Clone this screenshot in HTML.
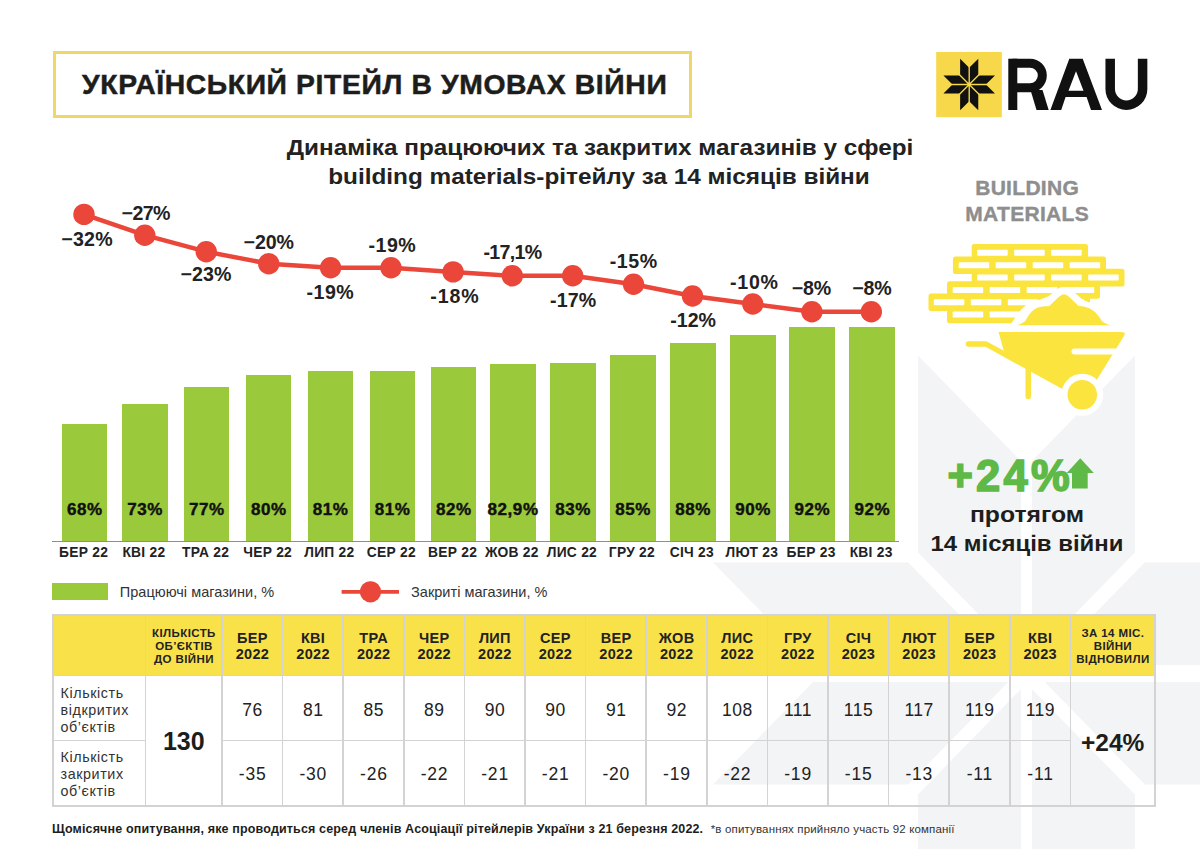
<!DOCTYPE html>
<html><head><meta charset="utf-8"><style>
*{margin:0;padding:0;box-sizing:border-box}
html,body{width:1200px;height:849px;overflow:hidden;background:#fff}
body{position:relative;font-family:"Liberation Sans",sans-serif;color:#1d1d1b}
.abs{position:absolute}
.t{position:absolute;white-space:nowrap}
.bar{position:absolute;background:#9bc93c}
.bl{position:absolute;width:80px;text-align:center;font-weight:bold;font-size:17px;line-height:20px;color:#111;letter-spacing:0.6px;padding-left:0.6px;-webkit-text-stroke:0.45px #111}
.ml{position:absolute;width:80px;text-align:center;font-weight:bold;font-size:13.8px;line-height:16px;color:#222;letter-spacing:0.25px;padding-left:0.25px}
.dl{position:absolute;width:90px;text-align:center;font-weight:bold;font-size:19.6px;line-height:20px;color:#222;letter-spacing:0.3px}
</style></head><body>

<svg class="abs" style="left:0;top:0" width="1200" height="849" viewBox="0 0 1200 849">
<polygon points="918.00,355.60 1026.50,466.60 1135.00,355.60 1135.00,562.40 1340.00,562.40 1231.50,673.40 1340.00,784.40 1135.00,784.40 1135.00,991.20 1026.50,880.20 918.00,991.20 918.00,784.40 713.00,784.40 821.50,673.40 713.00,562.40 918.00,562.40" fill="#f3f4f6"/>
<g stroke="#fff">
<line x1="1026.5" y1="273.4" x2="1026.5" y2="1073.4" stroke-width="11"/>
<line x1="626.5" y1="673.4" x2="1426.5" y2="673.4" stroke-width="17"/>
<line x1="679.3" y1="318.19999999999993" x2="1373.7" y2="1028.6" stroke-width="14"/>
<line x1="679.3" y1="1028.6" x2="1373.7" y2="318.19999999999993" stroke-width="14"/>
</g></svg>
<div class="abs" style="left:53px;top:51px;width:638.5px;height:66.5px;border:3px solid #efd868"></div>
<div class="t" style="left:82px;top:69.65px;font-size:28.3px;line-height:28px;font-weight:bold;letter-spacing:0.63px;color:#1d1d1b;-webkit-text-stroke:0.5px #1d1d1b">УКРАЇНСЬКИЙ РІТЕЙЛ В УМОВАХ ВІЙНИ</div>

<svg class="abs" style="left:0;top:0" width="1200" height="140" viewBox="0 0 1200 140">
<rect x="936.2" y="52" width="65.6" height="65.2" fill="#f7d84a"/>
<polygon points="960.13,58.73 969.20,67.80 978.27,58.73 978.27,75.43 994.97,75.43 985.90,84.50 994.97,93.57 978.27,93.57 978.27,110.27 969.20,101.20 960.13,110.27 960.13,93.57 943.43,93.57 952.50,84.50 943.43,75.43 960.13,75.43" fill="#111"/>
<g stroke="#f7d84a" stroke-width="1.35">
<line x1="969.2" y1="54.5" x2="969.2" y2="114.5"/>
<line x1="939.2" y1="84.5" x2="999.2" y2="84.5"/>
<line x1="939.2" y1="54.5" x2="999.2" y2="114.5"/>
<line x1="939.2" y1="114.5" x2="999.2" y2="54.5"/>
</g>
<circle cx="969.2" cy="84.5" r="1.9" fill="#f7d84a"/>
<g fill="#111">
<rect x="1008.3" y="58.7" width="9" height="51.3"/>
<path d="M1012.8,63.2 H1030 A12.3,12.3 0 0 1 1030,87.8 H1012.8" fill="none" stroke="#111" stroke-width="9"/>
<polygon points="1030.5,90 1042.5,90 1048.7,110 1036.5,110"/>
<path fill-rule="evenodd" d="M1050.4,110 L1069.3,58.7 L1082.7,58.7 L1102,110 L1091,110 L1086.6,97 L1065.6,97 L1061.2,110 Z M1076,71.3 L1083.5,90.7 L1068.5,90.7 Z"/>
<path d="M1110.2,58.7 V89 A16.2,16.2 0 0 0 1142.6,89 V58.7" fill="none" stroke="#111" stroke-width="9.5"/>
</g>
</svg>
<div class="t" style="left:299.5px;width:600px;text-align:center;top:134.3px;font-size:22px;line-height:28.7px;font-weight:bold;transform:scaleX(1.1035);transform-origin:300px 0;color:#222">Динаміка працюючих та закритих магазинів у сфері</div>
<div class="t" style="left:299.2px;width:600px;text-align:center;top:163px;font-size:22px;line-height:28.7px;font-weight:bold;transform:scaleX(1.105);transform-origin:300px 0;color:#222">building materials-рітейлу за 14 місяців війни</div>

<div class="bar" style="left:61.75px;top:423.8px;width:45.5px;height:116.94999999999999px"></div>
<div class="bl" style="left:44.5px;top:499.5px">68%</div>
<div class="ml" style="left:43.5px;top:544.7px">БЕР 22</div>
<div class="bar" style="left:122px;top:403.8px;width:45.5px;height:136.95px"></div>
<div class="bl" style="left:104.75px;top:499.5px">73%</div>
<div class="ml" style="left:103.75px;top:544.7px">КВІ 22</div>
<div class="bar" style="left:183.75px;top:387.3px;width:45.5px;height:153.45px"></div>
<div class="bl" style="left:166.5px;top:499.5px">77%</div>
<div class="ml" style="left:165.5px;top:544.7px">ТРА 22</div>
<div class="bar" style="left:245.75px;top:375.4px;width:45.5px;height:165.35000000000002px"></div>
<div class="bl" style="left:228.5px;top:499.5px">80%</div>
<div class="ml" style="left:227.5px;top:544.7px">ЧЕР 22</div>
<div class="bar" style="left:307.5px;top:371.1px;width:45.5px;height:169.64999999999998px"></div>
<div class="bl" style="left:290.25px;top:499.5px">81%</div>
<div class="ml" style="left:289.25px;top:544.7px">ЛИП 22</div>
<div class="bar" style="left:369.5px;top:371.1px;width:45.5px;height:169.64999999999998px"></div>
<div class="bl" style="left:352.25px;top:499.5px">81%</div>
<div class="ml" style="left:351.25px;top:544.7px">СЕР 22</div>
<div class="bar" style="left:430.75px;top:367.2px;width:45.5px;height:173.55px"></div>
<div class="bl" style="left:413.5px;top:499.5px">82%</div>
<div class="ml" style="left:412.5px;top:544.7px">ВЕР 22</div>
<div class="bar" style="left:490px;top:363.8px;width:45.5px;height:176.95px"></div>
<div class="bl" style="left:472.75px;top:499.5px">82,9%</div>
<div class="ml" style="left:471.75px;top:544.7px">ЖОВ 22</div>
<div class="bar" style="left:550px;top:363px;width:45.5px;height:177.75px"></div>
<div class="bl" style="left:532.75px;top:499.5px">83%</div>
<div class="ml" style="left:531.75px;top:544.7px">ЛИС 22</div>
<div class="bar" style="left:610px;top:355.2px;width:45.5px;height:185.55px"></div>
<div class="bl" style="left:592.75px;top:499.5px">85%</div>
<div class="ml" style="left:591.75px;top:544.7px">ГРУ 22</div>
<div class="bar" style="left:670px;top:343px;width:45.5px;height:197.75px"></div>
<div class="bl" style="left:652.75px;top:499.5px">88%</div>
<div class="ml" style="left:651.75px;top:544.7px">СІЧ 23</div>
<div class="bar" style="left:730px;top:335.1px;width:45.5px;height:205.64999999999998px"></div>
<div class="bl" style="left:712.75px;top:499.5px">90%</div>
<div class="ml" style="left:711.75px;top:544.7px">ЛЮТ 23</div>
<div class="bar" style="left:789.25px;top:326.8px;width:45.5px;height:213.95px"></div>
<div class="bl" style="left:772.0px;top:499.5px">92%</div>
<div class="ml" style="left:771.0px;top:544.7px">БЕР 23</div>
<div class="bar" style="left:849.25px;top:326.8px;width:45.5px;height:213.95px"></div>
<div class="bl" style="left:832.0px;top:499.5px">92%</div>
<div class="ml" style="left:831.0px;top:544.7px">КВІ 23</div>
<div class="abs" style="left:52.25px;top:540.5px;width:846.5px;height:1.3px;background:#8d8d92"></div>
<svg class="abs" style="left:0;top:0" width="1200" height="620" viewBox="0 0 1200 620">
<polyline points="84,214.4 144.8,235.2 206.25,251.7 268.75,263.75 330.6,267.7 391,267.7 453.1,271.9 512.3,275.8 572.7,275.8 633.5,284.2 692.5,296 752.8,304 811.9,311.7 871.3,311.7" fill="none" stroke="#ea4639" stroke-width="4.5" stroke-linejoin="round"/>
<circle cx="84" cy="214.4" r="10.7" fill="#ea4639"/><circle cx="144.8" cy="235.2" r="10.7" fill="#ea4639"/><circle cx="206.25" cy="251.7" r="10.7" fill="#ea4639"/><circle cx="268.75" cy="263.75" r="10.7" fill="#ea4639"/><circle cx="330.6" cy="267.7" r="10.7" fill="#ea4639"/><circle cx="391" cy="267.7" r="10.7" fill="#ea4639"/><circle cx="453.1" cy="271.9" r="10.7" fill="#ea4639"/><circle cx="512.3" cy="275.8" r="10.7" fill="#ea4639"/><circle cx="572.7" cy="275.8" r="10.7" fill="#ea4639"/><circle cx="633.5" cy="284.2" r="10.7" fill="#ea4639"/><circle cx="692.5" cy="296" r="10.7" fill="#ea4639"/><circle cx="752.8" cy="304" r="10.7" fill="#ea4639"/><circle cx="811.9" cy="311.7" r="10.7" fill="#ea4639"/><circle cx="871.3" cy="311.7" r="10.7" fill="#ea4639"/>
<line x1="341.6" y1="591.9" x2="399" y2="591.9" stroke="#ea4639" stroke-width="3.8"/>
<circle cx="370.5" cy="591.8" r="10.6" fill="#ea4639"/>
</svg>
<div class="dl" style="left:42.125px;top:229px;letter-spacing:0.25px">−32%</div>
<div class="dl" style="left:100.71px;top:202.5px;letter-spacing:-0.58px">−27%</div>
<div class="dl" style="left:161.035px;top:264px;letter-spacing:0.07px">−23%</div>
<div class="dl" style="left:223.71px;top:231.7px;letter-spacing:-0.08px">−20%</div>
<div class="dl" style="left:285.345px;top:282px;letter-spacing:0.49px">-19%</div>
<div class="dl" style="left:347.445px;top:234.7px;letter-spacing:0.49px">-19%</div>
<div class="dl" style="left:409.93px;top:286.4px;letter-spacing:0.86px">-18%</div>
<div class="dl" style="left:467.47499999999997px;top:242.4px;letter-spacing:-0.65px">-17,1%</div>
<div class="dl" style="left:528.1800000000001px;top:289.6px;letter-spacing:0.16px">-17%</div>
<div class="dl" style="left:588.765px;top:251px;letter-spacing:0.53px">-15%</div>
<div class="dl" style="left:648.115px;top:310px;letter-spacing:0.03px">-12%</div>
<div class="dl" style="left:709.38px;top:271.6px;letter-spacing:0.76px">-10%</div>
<div class="dl" style="left:766.39px;top:278.3px;letter-spacing:-0.22px">−8%</div>
<div class="dl" style="left:826.89px;top:278.3px;letter-spacing:-0.22px">−8%</div>
<div class="abs" style="left:51.7px;top:582.6px;width:56px;height:17.7px;background:#9bc93c"></div>
<div class="t" style="left:119.8px;top:583px;font-size:14.5px;line-height:18px;color:#333;letter-spacing:0.03px">Працюючі магазини, %</div>
<div class="t" style="left:411px;top:583px;font-size:14.5px;line-height:18px;color:#333;letter-spacing:0.03px">Закриті магазини, %</div>

<div class="t" style="left:927px;width:200px;text-align:center;top:177.9px;font-size:21px;line-height:20px;font-weight:bold;color:#8e8e8e;letter-spacing:0.3px;padding-left:0.3px;-webkit-text-stroke:0.4px #8e8e8e">BUILDING</div>
<div class="t" style="left:927px;width:200px;text-align:center;top:203.75px;font-size:21px;line-height:20px;font-weight:bold;color:#8e8e8e;letter-spacing:0.3px;padding-left:0.3px;-webkit-text-stroke:0.4px #8e8e8e">MATERIALS</div>
<svg class="abs" style="left:0;top:0" width="1200" height="430" viewBox="0 0 1200 430">
<rect x="971.7" y="244.0" width="116.29999999999995" height="17.6" rx="2.5" fill="#fce43e"/>
<rect x="952.9" y="256.4" width="153.10000000000002" height="17.6" rx="2.5" fill="#fce43e"/>
<rect x="971.7" y="268.8" width="152.79999999999995" height="17.6" rx="2.5" fill="#fce43e"/>
<rect x="947" y="281.2" width="153" height="17.6" rx="2.5" fill="#fce43e"/>
<rect x="928.5" y="293.5" width="161.5" height="17.6" rx="2.5" fill="#fce43e"/>
<rect x="947" y="305.7" width="123" height="17.6" rx="2.5" fill="#fce43e"/>
<rect x="977.2" y="249.8" width="30.5" height="6" rx="0.8" fill="#fff"/>
<rect x="1014.2" y="249.8" width="30.5" height="6" rx="0.8" fill="#fff"/>
<rect x="1051.2" y="249.8" width="30.5" height="6" rx="0.8" fill="#fff"/>
<rect x="958.7" y="262.2" width="30.5" height="6" rx="0.8" fill="#fff"/>
<rect x="995.7" y="262.2" width="30.5" height="6" rx="0.8" fill="#fff"/>
<rect x="1032.7" y="262.2" width="30.5" height="6" rx="0.8" fill="#fff"/>
<rect x="1069.7" y="262.2" width="30.5" height="6" rx="0.8" fill="#fff"/>
<rect x="977.2" y="274.6" width="30.5" height="6" rx="0.8" fill="#fff"/>
<rect x="1014.2" y="274.6" width="30.5" height="6" rx="0.8" fill="#fff"/>
<rect x="1051.2" y="274.6" width="30.5" height="6" rx="0.8" fill="#fff"/>
<rect x="1088.2" y="274.6" width="30.5" height="6" rx="0.8" fill="#fff"/>
<rect x="952.7" y="287" width="30.5" height="6" rx="0.8" fill="#fff"/>
<rect x="989.7" y="287" width="30.5" height="6" rx="0.8" fill="#fff"/>
<rect x="1026.7" y="287" width="30.5" height="6" rx="0.8" fill="#fff"/>
<rect x="1063.7" y="287" width="30.5" height="6" rx="0.8" fill="#fff"/>
<rect x="933.8" y="299.3" width="30.5" height="6" rx="0.8" fill="#fff"/>
<rect x="970.8" y="299.3" width="30.5" height="6" rx="0.8" fill="#fff"/>
<rect x="1007.8" y="299.3" width="30.5" height="6" rx="0.8" fill="#fff"/>
<rect x="1044.8" y="299.3" width="30.5" height="6" rx="0.8" fill="#fff"/>
<rect x="1081.8" y="299.3" width="2.400000000000091" height="6" rx="0.8" fill="#fff"/>
<rect x="952.7" y="311.5" width="30.5" height="6" rx="0.8" fill="#fff"/>
<rect x="989.7" y="311.5" width="30.5" height="6" rx="0.8" fill="#fff"/>
<rect x="1026.7" y="311.5" width="30.5" height="6" rx="0.8" fill="#fff"/>
<rect x="1063.7" y="311.5" width="0.5" height="6" rx="0.8" fill="#fff"/>
<path d="M1006,330 L1013,321 C1017,314 1023,306 1030,303 C1036,300.5 1043,299 1049,296 L1058,288.5 C1061,286.5 1067,286.5 1070,288.5 L1083,300 C1088,302 1094,303.5 1099,307 C1104,312 1110,320 1120,330 Z" fill="#fff"/>
<path d="M1017.3,325.3 C1021,324 1024,322.5 1026,320 C1029,314 1033,308.5 1040,307 C1044,306.2 1047,306.2 1049.5,306 C1054,301.5 1059,296.5 1062,294.8 Q1064,293.8 1066,294.8 C1069,296.5 1074,301.5 1078.5,306 C1084,306.2 1089,307.5 1093,310.5 C1097,313.5 1099.5,317 1101.8,321 C1104.5,323 1107,324.5 1110.5,325.3 Z" fill="#fce43e"/>
<path d="M998.5,332.1 H1121.5 Q1126.5,332.1 1124,336 L1086,397.3 L1004.5,353.3 Z" fill="#fce43e"/>
<polyline points="968.4,344 986,344 1075,393" fill="none" stroke="#fce43e" stroke-width="5.4" stroke-linecap="round" stroke-linejoin="round"/>
<line x1="1028.25" y1="366" x2="1028.25" y2="396.5" stroke="#fce43e" stroke-width="5.5" stroke-linecap="round"/>
<line x1="1074.5" y1="351.5" x2="1135" y2="351.5" stroke="#fff" stroke-width="6" stroke-linecap="round"/>
<circle cx="1082.25" cy="394.75" r="21" fill="#fff"/>
<circle cx="1082.25" cy="394.75" r="14.75" fill="#fce43e"/>
</svg>
<div class="t" style="left:947.5px;top:461.4px;font-size:43.5px;line-height:30px;font-weight:bold;color:#5fb946;letter-spacing:3.2px;-webkit-text-stroke:1.6px #5fb946">+24%</div>
<svg class="abs" style="left:0;top:0" width="1200" height="500" viewBox="0 0 1200 500"><polygon points="1066.7,473 1080.25,458.25 1093.8,473 1087.7,473 1087.7,488.5 1072,488.5 1072,473" fill="#5fb946"/></svg>
<div class="t" style="left:877.25px;width:300px;text-align:center;top:501px;font-size:22px;line-height:28.7px;font-weight:bold;transform:scaleX(1.125);transform-origin:150px 0;color:#1d1d1b">протягом</div>
<div class="t" style="left:877.25px;width:300px;text-align:center;top:530.3px;font-size:22px;line-height:28.7px;font-weight:bold;transform:scaleX(1.088);transform-origin:150px 0;color:#1d1d1b">14 місяців війни</div>
<div class="abs" style="left:53px;top:615px;width:1102px;height:60.5px;background:#f9e14a"></div>
<div class="abs" style="left:52.25px;top:614.25px;width:1.5px;height:192.5px;background:#d3d3d3"></div>
<div class="abs" style="left:144.75px;top:614.25px;width:1.5px;height:192.5px;background:#d3d3d3"></div>
<div class="abs" style="left:221.25px;top:614.25px;width:1.5px;height:192.5px;background:#d3d3d3"></div>
<div class="abs" style="left:281.85px;top:614.25px;width:1.5px;height:192.5px;background:#d3d3d3"></div>
<div class="abs" style="left:342.45px;top:614.25px;width:1.5px;height:192.5px;background:#d3d3d3"></div>
<div class="abs" style="left:403.05px;top:614.25px;width:1.5px;height:192.5px;background:#d3d3d3"></div>
<div class="abs" style="left:463.65px;top:614.25px;width:1.5px;height:192.5px;background:#d3d3d3"></div>
<div class="abs" style="left:524.25px;top:614.25px;width:1.5px;height:192.5px;background:#d3d3d3"></div>
<div class="abs" style="left:584.85px;top:614.25px;width:1.5px;height:192.5px;background:#d3d3d3"></div>
<div class="abs" style="left:645.45px;top:614.25px;width:1.5px;height:192.5px;background:#d3d3d3"></div>
<div class="abs" style="left:706.05px;top:614.25px;width:1.5px;height:192.5px;background:#d3d3d3"></div>
<div class="abs" style="left:766.65px;top:614.25px;width:1.5px;height:192.5px;background:#d3d3d3"></div>
<div class="abs" style="left:827.25px;top:614.25px;width:1.5px;height:192.5px;background:#d3d3d3"></div>
<div class="abs" style="left:887.85px;top:614.25px;width:1.5px;height:192.5px;background:#d3d3d3"></div>
<div class="abs" style="left:948.45px;top:614.25px;width:1.5px;height:192.5px;background:#d3d3d3"></div>
<div class="abs" style="left:1009.0500000000001px;top:614.25px;width:1.5px;height:192.5px;background:#d3d3d3"></div>
<div class="abs" style="left:1069.65px;top:614.25px;width:1.5px;height:192.5px;background:#d3d3d3"></div>
<div class="abs" style="left:1154.25px;top:614.25px;width:1.5px;height:192.5px;background:#d3d3d3"></div>
<div class="abs" style="left:52.25px;top:614.25px;width:1103.5px;height:1.5px;background:#d3d3d3"></div>
<div class="abs" style="left:52.25px;top:674.75px;width:1103.5px;height:1.5px;background:#d3d3d3"></div>
<div class="abs" style="left:52.25px;top:739.95px;width:94.0px;height:1.5px;background:#d3d3d3"></div>
<div class="abs" style="left:221.25px;top:739.95px;width:849.9000000000001px;height:1.5px;background:#d3d3d3"></div>
<div class="abs" style="left:52.25px;top:805.25px;width:1103.5px;height:1.5px;background:#d3d3d3"></div>
<div class="t" style="left:212.3px;width:80px;text-align:center;top:630.0px;line-height:16px;font-size:14.5px;font-weight:bold;color:#222;letter-spacing:0.3px;padding-left:0.3px">БЕР</div>
<div class="t" style="left:212.3px;width:80px;text-align:center;top:646.3px;line-height:16px;font-size:14.5px;font-weight:bold;color:#222;letter-spacing:0.3px;padding-left:0.3px">2022</div>
<div class="t" style="left:212.3px;width:80px;text-align:center;top:701.5px;line-height:16px;font-size:17.5px;color:#222;letter-spacing:0.5px;padding-left:0.5px">76</div>
<div class="t" style="left:212.3px;width:80px;text-align:center;top:766.0px;line-height:16px;font-size:17.5px;color:#222;letter-spacing:0.8px;padding-left:0.8px">-35</div>
<div class="t" style="left:272.9px;width:80px;text-align:center;top:630.0px;line-height:16px;font-size:14.5px;font-weight:bold;color:#222;letter-spacing:0.3px;padding-left:0.3px">КВІ</div>
<div class="t" style="left:272.9px;width:80px;text-align:center;top:646.3px;line-height:16px;font-size:14.5px;font-weight:bold;color:#222;letter-spacing:0.3px;padding-left:0.3px">2022</div>
<div class="t" style="left:272.9px;width:80px;text-align:center;top:701.5px;line-height:16px;font-size:17.5px;color:#222;letter-spacing:0.5px;padding-left:0.5px">81</div>
<div class="t" style="left:272.9px;width:80px;text-align:center;top:766.0px;line-height:16px;font-size:17.5px;color:#222;letter-spacing:0.8px;padding-left:0.8px">-30</div>
<div class="t" style="left:333.5px;width:80px;text-align:center;top:630.0px;line-height:16px;font-size:14.5px;font-weight:bold;color:#222;letter-spacing:0.3px;padding-left:0.3px">ТРА</div>
<div class="t" style="left:333.5px;width:80px;text-align:center;top:646.3px;line-height:16px;font-size:14.5px;font-weight:bold;color:#222;letter-spacing:0.3px;padding-left:0.3px">2022</div>
<div class="t" style="left:333.5px;width:80px;text-align:center;top:701.5px;line-height:16px;font-size:17.5px;color:#222;letter-spacing:0.5px;padding-left:0.5px">85</div>
<div class="t" style="left:333.5px;width:80px;text-align:center;top:766.0px;line-height:16px;font-size:17.5px;color:#222;letter-spacing:0.8px;padding-left:0.8px">-26</div>
<div class="t" style="left:394.1px;width:80px;text-align:center;top:630.0px;line-height:16px;font-size:14.5px;font-weight:bold;color:#222;letter-spacing:0.3px;padding-left:0.3px">ЧЕР</div>
<div class="t" style="left:394.1px;width:80px;text-align:center;top:646.3px;line-height:16px;font-size:14.5px;font-weight:bold;color:#222;letter-spacing:0.3px;padding-left:0.3px">2022</div>
<div class="t" style="left:394.1px;width:80px;text-align:center;top:701.5px;line-height:16px;font-size:17.5px;color:#222;letter-spacing:0.5px;padding-left:0.5px">89</div>
<div class="t" style="left:394.1px;width:80px;text-align:center;top:766.0px;line-height:16px;font-size:17.5px;color:#222;letter-spacing:0.8px;padding-left:0.8px">-22</div>
<div class="t" style="left:454.7px;width:80px;text-align:center;top:630.0px;line-height:16px;font-size:14.5px;font-weight:bold;color:#222;letter-spacing:0.3px;padding-left:0.3px">ЛИП</div>
<div class="t" style="left:454.7px;width:80px;text-align:center;top:646.3px;line-height:16px;font-size:14.5px;font-weight:bold;color:#222;letter-spacing:0.3px;padding-left:0.3px">2022</div>
<div class="t" style="left:454.7px;width:80px;text-align:center;top:701.5px;line-height:16px;font-size:17.5px;color:#222;letter-spacing:0.5px;padding-left:0.5px">90</div>
<div class="t" style="left:454.7px;width:80px;text-align:center;top:766.0px;line-height:16px;font-size:17.5px;color:#222;letter-spacing:0.8px;padding-left:0.8px">-21</div>
<div class="t" style="left:515.3px;width:80px;text-align:center;top:630.0px;line-height:16px;font-size:14.5px;font-weight:bold;color:#222;letter-spacing:0.3px;padding-left:0.3px">СЕР</div>
<div class="t" style="left:515.3px;width:80px;text-align:center;top:646.3px;line-height:16px;font-size:14.5px;font-weight:bold;color:#222;letter-spacing:0.3px;padding-left:0.3px">2022</div>
<div class="t" style="left:515.3px;width:80px;text-align:center;top:701.5px;line-height:16px;font-size:17.5px;color:#222;letter-spacing:0.5px;padding-left:0.5px">90</div>
<div class="t" style="left:515.3px;width:80px;text-align:center;top:766.0px;line-height:16px;font-size:17.5px;color:#222;letter-spacing:0.8px;padding-left:0.8px">-21</div>
<div class="t" style="left:575.9000000000001px;width:80px;text-align:center;top:630.0px;line-height:16px;font-size:14.5px;font-weight:bold;color:#222;letter-spacing:0.3px;padding-left:0.3px">ВЕР</div>
<div class="t" style="left:575.9000000000001px;width:80px;text-align:center;top:646.3px;line-height:16px;font-size:14.5px;font-weight:bold;color:#222;letter-spacing:0.3px;padding-left:0.3px">2022</div>
<div class="t" style="left:575.9000000000001px;width:80px;text-align:center;top:701.5px;line-height:16px;font-size:17.5px;color:#222;letter-spacing:0.5px;padding-left:0.5px">91</div>
<div class="t" style="left:575.9000000000001px;width:80px;text-align:center;top:766.0px;line-height:16px;font-size:17.5px;color:#222;letter-spacing:0.8px;padding-left:0.8px">-20</div>
<div class="t" style="left:636.5px;width:80px;text-align:center;top:630.0px;line-height:16px;font-size:14.5px;font-weight:bold;color:#222;letter-spacing:0.3px;padding-left:0.3px">ЖОВ</div>
<div class="t" style="left:636.5px;width:80px;text-align:center;top:646.3px;line-height:16px;font-size:14.5px;font-weight:bold;color:#222;letter-spacing:0.3px;padding-left:0.3px">2022</div>
<div class="t" style="left:636.5px;width:80px;text-align:center;top:701.5px;line-height:16px;font-size:17.5px;color:#222;letter-spacing:0.5px;padding-left:0.5px">92</div>
<div class="t" style="left:636.5px;width:80px;text-align:center;top:766.0px;line-height:16px;font-size:17.5px;color:#222;letter-spacing:0.8px;padding-left:0.8px">-19</div>
<div class="t" style="left:697.0999999999999px;width:80px;text-align:center;top:630.0px;line-height:16px;font-size:14.5px;font-weight:bold;color:#222;letter-spacing:0.3px;padding-left:0.3px">ЛИС</div>
<div class="t" style="left:697.0999999999999px;width:80px;text-align:center;top:646.3px;line-height:16px;font-size:14.5px;font-weight:bold;color:#222;letter-spacing:0.3px;padding-left:0.3px">2022</div>
<div class="t" style="left:697.0999999999999px;width:80px;text-align:center;top:701.5px;line-height:16px;font-size:17.5px;color:#222;letter-spacing:0.5px;padding-left:0.5px">108</div>
<div class="t" style="left:697.0999999999999px;width:80px;text-align:center;top:766.0px;line-height:16px;font-size:17.5px;color:#222;letter-spacing:0.8px;padding-left:0.8px">-22</div>
<div class="t" style="left:757.7px;width:80px;text-align:center;top:630.0px;line-height:16px;font-size:14.5px;font-weight:bold;color:#222;letter-spacing:0.3px;padding-left:0.3px">ГРУ</div>
<div class="t" style="left:757.7px;width:80px;text-align:center;top:646.3px;line-height:16px;font-size:14.5px;font-weight:bold;color:#222;letter-spacing:0.3px;padding-left:0.3px">2022</div>
<div class="t" style="left:757.7px;width:80px;text-align:center;top:701.5px;line-height:16px;font-size:17.5px;color:#222;letter-spacing:0.5px;padding-left:0.5px">111</div>
<div class="t" style="left:757.7px;width:80px;text-align:center;top:766.0px;line-height:16px;font-size:17.5px;color:#222;letter-spacing:0.8px;padding-left:0.8px">-19</div>
<div class="t" style="left:818.3px;width:80px;text-align:center;top:630.0px;line-height:16px;font-size:14.5px;font-weight:bold;color:#222;letter-spacing:0.3px;padding-left:0.3px">СІЧ</div>
<div class="t" style="left:818.3px;width:80px;text-align:center;top:646.3px;line-height:16px;font-size:14.5px;font-weight:bold;color:#222;letter-spacing:0.3px;padding-left:0.3px">2023</div>
<div class="t" style="left:818.3px;width:80px;text-align:center;top:701.5px;line-height:16px;font-size:17.5px;color:#222;letter-spacing:0.5px;padding-left:0.5px">115</div>
<div class="t" style="left:818.3px;width:80px;text-align:center;top:766.0px;line-height:16px;font-size:17.5px;color:#222;letter-spacing:0.8px;padding-left:0.8px">-15</div>
<div class="t" style="left:878.9000000000001px;width:80px;text-align:center;top:630.0px;line-height:16px;font-size:14.5px;font-weight:bold;color:#222;letter-spacing:0.3px;padding-left:0.3px">ЛЮТ</div>
<div class="t" style="left:878.9000000000001px;width:80px;text-align:center;top:646.3px;line-height:16px;font-size:14.5px;font-weight:bold;color:#222;letter-spacing:0.3px;padding-left:0.3px">2023</div>
<div class="t" style="left:878.9000000000001px;width:80px;text-align:center;top:701.5px;line-height:16px;font-size:17.5px;color:#222;letter-spacing:0.5px;padding-left:0.5px">117</div>
<div class="t" style="left:878.9000000000001px;width:80px;text-align:center;top:766.0px;line-height:16px;font-size:17.5px;color:#222;letter-spacing:0.8px;padding-left:0.8px">-13</div>
<div class="t" style="left:939.5px;width:80px;text-align:center;top:630.0px;line-height:16px;font-size:14.5px;font-weight:bold;color:#222;letter-spacing:0.3px;padding-left:0.3px">БЕР</div>
<div class="t" style="left:939.5px;width:80px;text-align:center;top:646.3px;line-height:16px;font-size:14.5px;font-weight:bold;color:#222;letter-spacing:0.3px;padding-left:0.3px">2023</div>
<div class="t" style="left:939.5px;width:80px;text-align:center;top:701.5px;line-height:16px;font-size:17.5px;color:#222;letter-spacing:0.5px;padding-left:0.5px">119</div>
<div class="t" style="left:939.5px;width:80px;text-align:center;top:766.0px;line-height:16px;font-size:17.5px;color:#222;letter-spacing:0.8px;padding-left:0.8px">-11</div>
<div class="t" style="left:1000.1000000000001px;width:80px;text-align:center;top:630.0px;line-height:16px;font-size:14.5px;font-weight:bold;color:#222;letter-spacing:0.3px;padding-left:0.3px">КВІ</div>
<div class="t" style="left:1000.1000000000001px;width:80px;text-align:center;top:646.3px;line-height:16px;font-size:14.5px;font-weight:bold;color:#222;letter-spacing:0.3px;padding-left:0.3px">2023</div>
<div class="t" style="left:1000.1000000000001px;width:80px;text-align:center;top:701.5px;line-height:16px;font-size:17.5px;color:#222;letter-spacing:0.5px;padding-left:0.5px">119</div>
<div class="t" style="left:1000.1000000000001px;width:80px;text-align:center;top:766.0px;line-height:16px;font-size:17.5px;color:#222;letter-spacing:0.8px;padding-left:0.8px">-11</div>
<div class="t" style="left:143.75px;width:80px;text-align:center;top:624.6px;line-height:16px;font-size:11.5px;font-weight:bold;color:#222;letter-spacing:0.4px;padding-left:0.4px">КІЛЬКІСТЬ</div>
<div class="t" style="left:143.75px;width:80px;text-align:center;top:638.0px;line-height:16px;font-size:11.5px;font-weight:bold;color:#222;letter-spacing:0.4px;padding-left:0.4px">ОБ’ЄКТІВ</div>
<div class="t" style="left:143.75px;width:80px;text-align:center;top:651.4px;line-height:16px;font-size:11.5px;font-weight:bold;color:#222;letter-spacing:0.4px;padding-left:0.4px">ДО ВІЙНИ</div>
<div class="t" style="left:1067.7px;width:90px;text-align:center;top:624.6px;line-height:16px;font-size:11.5px;font-weight:bold;color:#222;letter-spacing:0.4px;padding-left:0.4px">ЗА 14 МІС.</div>
<div class="t" style="left:1067.7px;width:90px;text-align:center;top:638.0px;line-height:16px;font-size:11.5px;font-weight:bold;color:#222;letter-spacing:0.4px;padding-left:0.4px">ВІЙНИ</div>
<div class="t" style="left:1067.7px;width:90px;text-align:center;top:651.4px;line-height:16px;font-size:11.5px;font-weight:bold;color:#222;letter-spacing:0.4px;padding-left:0.4px">ВІДНОВИЛИ</div>
<div class="t" style="left:143.75px;width:80px;text-align:center;top:729.3px;line-height:24px;font-size:25px;font-weight:bold;color:#1d1d1b">130</div>
<div class="t" style="left:1072.7px;width:80px;text-align:center;top:731.4px;line-height:24px;font-size:24.5px;font-weight:bold;color:#1d1d1b">+24%</div>
<div class="t" style="left:60.5px;top:684.6999999999999px;font-size:14.3px;line-height:16.9px;color:#333;letter-spacing:0.6px">Кількість<br>відкритих<br>об’єктів</div>
<div class="t" style="left:60.5px;top:748.6999999999999px;font-size:14.3px;line-height:16.9px;color:#333;letter-spacing:0.6px">Кількість<br>закритих<br>об’єктів</div>
<div class="t" style="left:52px;top:822.5px;font-size:12.5px;line-height:12px;font-weight:bold;letter-spacing:0.15px;color:#1d1d1b">Щомісячне опитування, яке проводиться серед членів Асоціації рітейлерів України з 21 березня 2022.</div>
<div class="t" style="left:710.7px;top:822.8px;font-size:11.5px;line-height:12px;color:#333;letter-spacing:0.16px">*в опитуваннях прийняло участь 92 компанії</div>
</body></html>
